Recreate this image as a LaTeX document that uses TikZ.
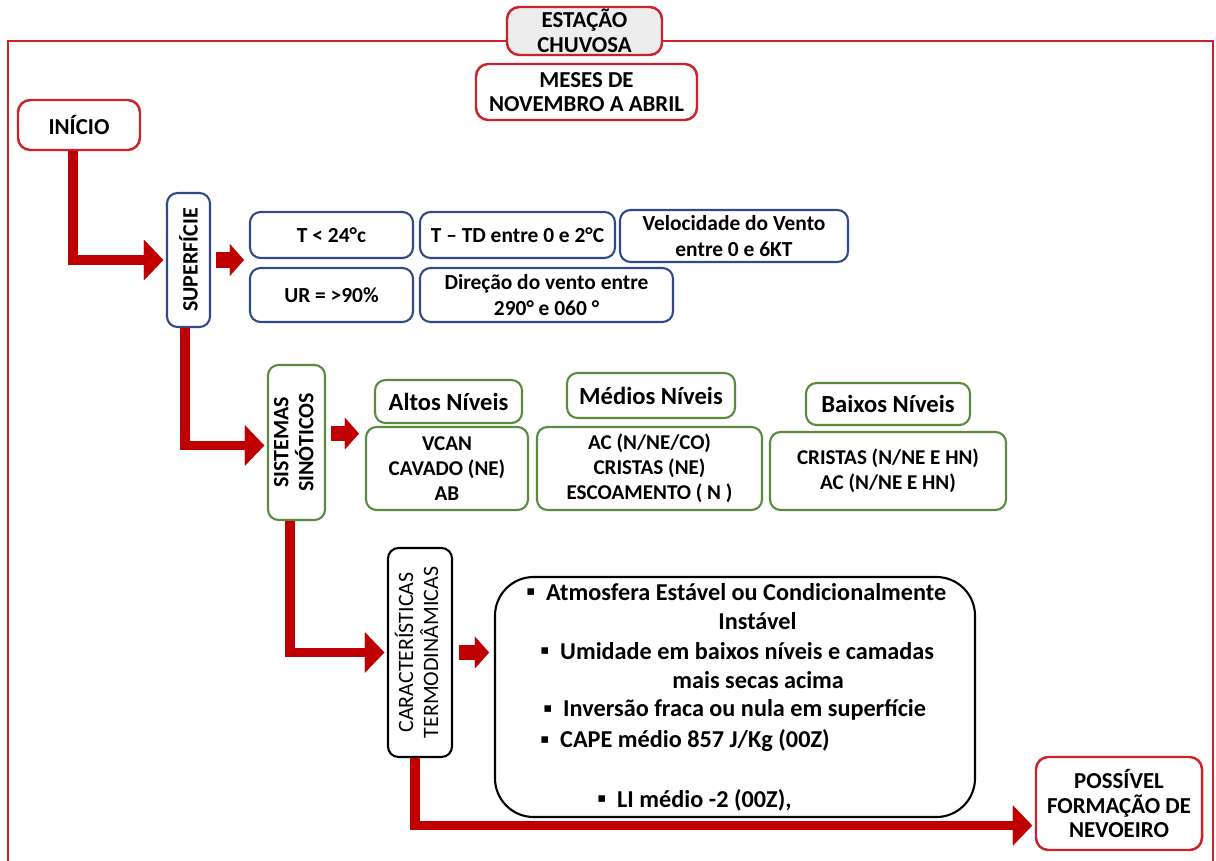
\documentclass[tikz,border=0pt]{standalone}
\usepackage{fontspec}
\usepackage{graphicx}
\setmainfont{Carlito}
\newfontfamily\dejavu{DejaVu Sans}
\usetikzlibrary{arrows.meta,calc}
\definecolor{cred}{HTML}{C00000}
\definecolor{bred}{HTML}{CC2229}
\definecolor{cblue}{HTML}{2F4A85}
\definecolor{cgreen}{HTML}{5A8A3C}
\definecolor{cgray}{HTML}{EDEDED}
\newcommand{\mybox}[7]{\node[#6, minimum width={(#4-#2)*0.02cm}, minimum height={(#5-#3)*0.02cm}] (#1) at ({(#2+#4)/2},{(#3+#5)/2}) {#7};}
\newcommand{\bul}{\makebox[11.3pt][l]{\raisebox{2.6pt}{\dejavu\fontsize{7.5}{7.5}\selectfont ▪}}}
\begin{document}
\begin{tikzpicture}[x=0.02cm,y=-0.02cm,
 redbox/.style={draw=bred, line width=1.4pt, rounded corners=7pt, fill=white, align=center, inner sep=0pt, font=\bfseries\fontsize{13}{14}\selectfont},
 bluebox/.style={draw=cblue, line width=1.2pt, rounded corners=6pt, align=center, inner sep=0pt, font=\bfseries\fontsize{12.2}{15}\selectfont},
 greenbox/.style={draw=cgreen, line width=1.2pt, rounded corners=6pt, align=center, inner sep=0pt, font=\bfseries\fontsize{12}{14.2}\selectfont},
 greenhead/.style={greenbox, font=\bfseries\fontsize{14}{16}\selectfont},
 blackbox/.style={draw=black, line width=1.2pt, rounded corners=6pt, align=center, inner sep=0pt},
 conn/.style={draw=cred, line width=5.5pt, line join=miter, -{Triangle[length=11pt,width=23pt,line width=0.01pt]}, shorten >=1.5pt},
 blk/.style={draw=cred, line width=9pt, -{Triangle[length=8pt,width=18pt,line width=0.01pt]}},
 item/.style={anchor=west, inner sep=0pt, font=\bfseries\fontsize{13.8}{16}\selectfont}
]
\useasboundingbox (0,0) rectangle (1216,861);
\draw[bred, line width=1.3pt] (8,861) -- (8,41) -- (1213,41) -- (1213,861);

\mybox{est}{507}{7}{662}{55}{redbox, fill=cgray}{ESTAÇÃO\\CHUVOSA}
\mybox{mes}{476}{64}{697}{120}{redbox}{MESES DE\\NOVEMBRO A ABRIL}
\mybox{ini}{18}{100}{140}{150}{redbox}{INÍCIO}

\mybox{sup}{167}{193}{210}{327}{bluebox}{\rotatebox{90}{\fontsize{12.5}{13}\selectfont SUPERFÍCIE}}
\mybox{t1}{250}{212}{413}{258}{bluebox}{T < 24°c}
\mybox{t2}{420}{212}{615}{258}{bluebox}{T – TD entre 0 e 2°C}
\mybox{t3}{620}{210}{848}{262}{bluebox}{Velocidade do Vento\\entre 0 e 6KT}
\mybox{t4}{250}{268}{413}{322}{bluebox}{UR = >90\%}
\mybox{t5}{420}{268}{673}{322}{bluebox}{Direção do vento entre\\290° e 060 °}

\mybox{sis}{268}{365}{325}{520}{greenbox}{\rotatebox{90}{\fontsize{12.5}{12.5}\selectfont\begin{tabular}{@{}c@{}}SISTEMAS\\SINÓTICOS\end{tabular}}}
\mybox{h1}{375}{380}{522}{423}{greenhead}{Altos Níveis}
\mybox{h2}{567}{373}{735}{418}{greenhead}{Médios Níveis}
\mybox{h3}{806}{383}{970}{425}{greenhead}{Baixos Níveis}
\mybox{g1}{366}{427}{528}{510}{greenbox}{VCAN\\CAVADO (NE)\\AB}
\mybox{g2}{537}{427}{762}{510}{greenbox}{AC (N/NE/CO)\\CRISTAS (NE)\\ESCOAMENTO ( N )}
\mybox{g3}{770}{432}{1006}{510}{greenbox}{CRISTAS (N/NE E HN)\\AC (N/NE E HN)}

\mybox{car}{388}{548}{452}{757}{blackbox}{\rotatebox{90}{\fontsize{12.5}{13.6}\selectfont\begin{tabular}{@{}c@{}}CARACTERÍSTICAS\\TERMODINÂMICAS\end{tabular}}}
\mybox{big}{495}{577}{975}{817}{blackbox, rounded corners=22pt}{}
\node[item] (i1) at (526,592) {\bul Atmosfera Estável ou Condicionalmente};
\node[item] (i2) at (718,621) {Instável};
\node[item] (i3) at (540,651) {\bul Umidade em baixos níveis e camadas};
\node[item] (i4) at (672,680) {mais secas acima};
\node[item] (i5) at (543,710) {\bul Inversão fraca ou nula em superfície};
\node[item] (i6) at (540,741) {\bul CAPE médio 857 J/Kg (00Z)};
\node[item] (i7) at (597,800) {\bul LI médio -2 (00Z),};

\mybox{pos}{1036}{757}{1202}{850}{redbox}{POSSÍVEL\\FORMAÇÃO DE\\NEVOEIRO}

\draw[conn] ([xshift=-3.4pt]ini.south) |- (sup.west);
\draw[conn] ([xshift=-2pt]sup.south) |- ([yshift=-1.7pt]sis.west);
\draw[conn] ([xshift=-3.7pt]sis.south) |- (car.west);
\draw[conn] ([xshift=-2.8pt]car.south) |- ($(pos.west)+(0,22)$);

\draw[blk] ([xshift=2.8pt]sup.east) -- ++(28,0);
\draw[blk] ([xshift=2.8pt,yshift=5.1pt]sis.east) -- ++(28,0);
\draw[blk] ([xshift=3.4pt]car.east) -- ++(30,0);
\end{tikzpicture}
\end{document}
